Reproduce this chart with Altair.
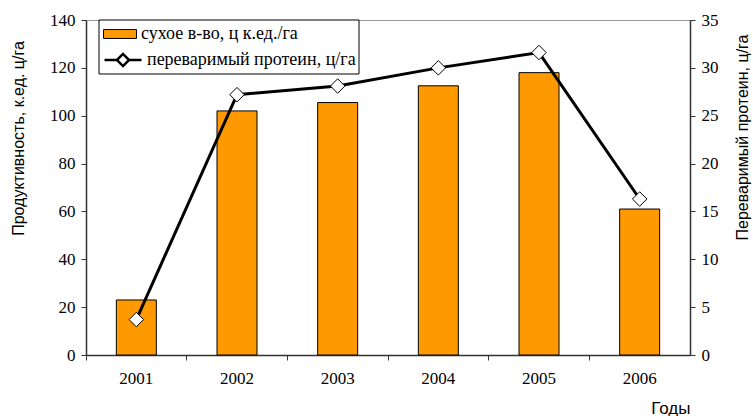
import altair as alt
import pandas as pd

# Years and the two measured series
years = ["2001", "2002", "2003", "2004", "2005", "2006"]
dry_matter = [23, 102, 105.5, 112.5, 118, 61]          # ц к.ед./га (left axis)
protein = [3.7, 27.2, 28.1, 30.0, 31.6, 16.3]          # ц/га (right axis)

bar_label = "сухое в-во, ц к.ед./га"
line_label = "переваримый протеин, ц/га"

left_ticks = [0, 20, 40, 60, 80, 100, 120, 140]
right_ticks = [0, 5, 10, 15, 20, 25, 30, 35]

W, H = 604, 335

df = pd.DataFrame({
    "year": years,
    "dry": dry_matter,
    "prot": protein,
    "s_bar": [bar_label] * len(years),
    "s_line": [line_label] * len(years),
})

SERIF = "Liberation Serif"
SANS = "Liberation Sans"
AXIS_COL = "#333333"

x_enc = alt.X(
    "year:N",
    sort=years,
    scale=alt.Scale(paddingInner=0, paddingOuter=0),
    axis=alt.Axis(
        title="Годы",
        titleFont=SANS,
        titleFontSize=17,
        titleFontWeight="normal",
        titleX=W,
        titleY=58,
        titleAlign="right",
        titleBaseline="alphabetic",
        labelFont=SERIF,
        labelFontSize=17,
        labelAngle=0,
        labelPadding=10,
        bandPosition=0,
        tickSize=5,
        tickColor=AXIS_COL,
        domainColor=AXIS_COL,
        domainWidth=1.5,
    ),
)

# Dry-matter bars on the left axis
bars = alt.Chart(df).mark_bar(size=40, stroke="black", strokeWidth=1).encode(
    x=x_enc,
    y=alt.Y(
        "dry:Q",
        scale=alt.Scale(domain=[0, 140], nice=False),
        axis=alt.Axis(
            values=left_ticks,
            title="Продуктивность, к.ед. ц/га",
            titleFont=SANS,
            titleFontSize=16,
            titleFontWeight="normal",
            titleAngle=-90,
            titleX=-68,
            titleY=118,
            titleAlign="center",
            titleBaseline="middle",
            labelFont=SERIF,
            labelFontSize=17,
            labelPadding=6,
            tickSize=5,
            tickColor=AXIS_COL,
            domainColor=AXIS_COL,
            domainWidth=1.5,
            grid=False,
        ),
    ),
    fill=alt.Fill(
        "s_bar:N",
        scale=alt.Scale(domain=[bar_label], range=["#FF9900"]),
        legend=alt.Legend(
            title=None,
            orient="none",
            legendX=17,
            legendY=-3,
            padding=0,
            symbolType="M-1,-0.27H1V0.27H-1Z",
            symbolSize=1089,
            symbolStrokeColor="black",
            symbolStrokeWidth=1,
            labelFont=SERIF,
            labelFontSize=18,
            labelOffset=4,
            labelLimit=400,
        ),
    ),
)

right_y = alt.Y(
    "prot:Q",
    scale=alt.Scale(domain=[0, 35], nice=False),
    axis=alt.Axis(
        orient="right",
        values=right_ticks,
        title="Переваримый протеин, ц/га",
        titleFont=SANS,
        titleFontSize=16,
        titleFontWeight="normal",
        titleAngle=-90,
        titleX=52,
        titleY=117,
        titleAlign="center",
        titleBaseline="middle",
        labelFont=SERIF,
        labelFontSize=17,
        labelPadding=6,
        tickSize=5,
        tickColor=AXIS_COL,
        domainColor=AXIS_COL,
        domainWidth=1.5,
        grid=False,
    ),
)

line_stroke = alt.Stroke(
    "s_line:N",
    scale=alt.Scale(domain=[line_label], range=["black"]),
    legend=alt.Legend(
        title=None,
        orient="none",
        legendX=17,
        legendY=20,
        padding=0,
        symbolType="M-1,0H-0.33M0.33,0H1M-0.33,0L0,-0.33L0.33,0L0,0.33Z",
        symbolSize=1369,
        symbolStrokeWidth=2.5,
        labelFont=SERIF,
        labelFontSize=18,
        labelOffset=4,
        labelLimit=400,
    ),
)

# Digestible-protein line with diamond markers on the right axis
line = alt.Chart(df).mark_line(strokeWidth=3).encode(
    x=alt.X("year:N", sort=years),
    y=right_y,
    stroke=line_stroke,
)

points = alt.Chart(df).mark_point(
    shape="diamond", filled=True, fill="white", strokeWidth=1, size=210, opacity=1
).encode(
    x=alt.X("year:N", sort=years),
    y=alt.Y("prot:Q"),
    stroke=line_stroke,
)

# Frame around the legend entries
legend_box = alt.Chart(pd.DataFrame({"k": [0]})).mark_rect(
    fill="white", stroke="black", strokeWidth=1
).encode(
    x=alt.value(13), x2=alt.value(273), y=alt.value(0), y2=alt.value(54)
)

chart = (
    alt.layer(legend_box, bars, line + points)
    .resolve_scale(y="independent")
    .properties(
        width=W,
        height=H,
        autosize=alt.AutoSizeParams(type="none"),
        padding={"left": 86, "top": 20, "right": 63, "bottom": 61},
    )
    .configure_view(stroke="#999999", strokeWidth=1)
    .configure_legend(symbolBaseFillColor="white")
    .configure_axis(labelColor="black", titleColor="black")
)

chart.save("out.html", embed_options={"renderer": "svg", "actions": False})
